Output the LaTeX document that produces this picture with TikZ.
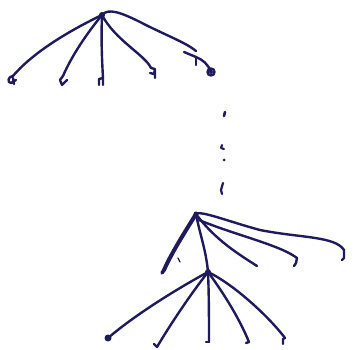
\documentclass[tikz,border=0pt]{standalone}
\definecolor{ink}{HTML}{1E1A5C}
\begin{document}
\begin{tikzpicture}[x=1pt,y=-1pt,
  pen/.style={draw=ink,line width=2.4pt,line cap=round,line join=round},
  thick pen/.style={pen,line width=4pt}]
\useasboundingbox (0,0) rectangle (354,350);
% top tree
\coordinate (r1) at (102,15);
\coordinate (a1) at (13,76);
\coordinate (b1) at (63,76);
\coordinate (c1) at (103,78);
\coordinate (d1) at (151,68);
\coordinate (e1) at (196,51);
\coordinate (f1) at (211,72);
\draw[pen] (r1) .. controls (75,28) and (35,50) .. (a1);
\draw[pen] (r1) .. controls (88,32) and (72,55) .. (b1);
\draw[pen] (r1) .. controls (101,40) and (102,60) .. (c1);
\draw[pen] (r1) .. controls (115,40) and (145,55) .. (d1);
\draw[pen] (r1) .. controls (108,8) and (120,12) .. (140,22) .. controls (165,35) and (185,42) .. (e1);
\draw[pen] (184,52) -- (196,57) .. controls (203,60) and (208,64) .. (f1);
\draw[pen] (196,58) -- (196,65);
% leaf marks top
\draw[pen] (a1) .. controls (8,76) and (7,83) .. (11,83) -- (16,80) (13,78) -- (14,84);
\draw[pen] (b1) -- (60,80) -- (62,85) -- (67,80);
\draw[pen] (c1) -- (103,85) (c1) -- (99,79) -- (99,85);
\draw[pen] (d1) -- (155,69) -- (154,74) -- (150,73) (155,70) -- (155,78);
\draw[pen] (f1) circle[radius=3.5];
\fill[ink] (f1) circle[radius=2];
% dots
\draw[pen,line width=2.6pt] (225,112) -- (224,116);
\draw[pen,line width=2.2pt] (222,145) -- (221,148) -- (224,149);
\fill[ink] (224,160) circle[radius=1.5];
\draw[pen,line width=2.2pt] (223,183) -- (221,190) -- (222,194);
% middle tree
\coordinate (r2) at (196,214);
\coordinate (a2) at (164,270);
\coordinate (b2) at (257,266);
\coordinate (c2) at (294,266);
\coordinate (d2) at (342,260);
\coordinate (r3) at (208,272);
\draw[thick pen] (r2) .. controls (185,232) and (172,252) .. (a2);
\draw[pen,line width=3.5pt] (a2) -- (162,273);
\draw[pen,line width=1.2pt] (178,258) -- (180,262);
\draw[pen] (r2) .. controls (215,240) and (240,255) .. (b2);
\draw[pen] (199,220) .. controls (235,235) and (280,245) .. (297,258) -- (296,263) -- (c2);
\draw[pen] (r2) .. controls (200,210) and (230,222) .. (260,230) .. controls (300,238) and (335,236) .. (344,250) -- (344,258) -- (d2);
\draw[pen] (r2) .. controls (200,235) and (206,250) .. (r3);
% bottom tree
\coordinate (a3) at (108,338);
\coordinate (b3) at (157,347);
\coordinate (c3) at (209,342);
\coordinate (d3) at (249,342);
\coordinate (e3) at (285,338);
\draw[pen] (r3) .. controls (175,290) and (135,315) .. (a3);
\draw[pen] (r3) .. controls (190,295) and (170,325) .. (b3);
\draw[pen] (r3) .. controls (209,295) and (209,320) .. (c3);
\draw[pen] (r3) .. controls (225,295) and (240,320) .. (d3);
\draw[pen] (r3) .. controls (235,285) and (270,318) .. (e3);
\fill[ink] (a3) circle[radius=3.5];
\draw[pen] (b3) -- (154,344);
\draw[pen] (c3) -- (206,342);
\draw[pen] (d3) -- (246,343);
\draw[pen] (e3) -- (283,339) -- (283,344);
\fill[ink] (r2) circle[radius=2.5];
\fill[ink] (r3) circle[radius=3];
\fill[ink] (r1) circle[radius=3];
\end{tikzpicture}
\end{document}
